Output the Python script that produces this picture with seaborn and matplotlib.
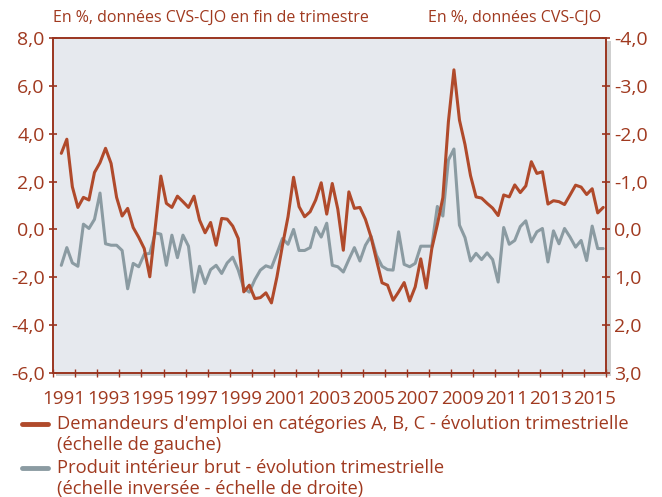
import numpy as np
import pandas as pd
import matplotlib
matplotlib.use("Agg")
import matplotlib.pyplot as plt
import seaborn as sns
from matplotlib.ticker import FuncFormatter, FixedLocator
from matplotlib.lines import Line2D
from matplotlib.patches import Rectangle

# ---------------- data ----------------
first_quarter = "1991Q2"
# Demandeurs d'emploi cat. A, B, C - évolution trimestrielle (%), left scale
demandeurs = [
    3.18, 3.77, 1.78, 0.92, 1.34, 1.23, 2.38, 2.79, 3.39, 2.76,
    1.34, 0.56, 0.88, 0.08, -0.33, -0.80, -1.98, 0.10, 2.23, 1.09,
    0.92, 1.39, 1.16, 0.92, 1.39, 0.39, -0.14, 0.29, -0.66, 0.46,
    0.43, 0.14, -0.38, -2.61, -2.33, -2.89, -2.85, -2.65, -3.07, -1.98,
    -0.66, 0.53, 2.18, 0.95, 0.53, 0.74, 1.23, 1.95, 0.64, 1.92,
    0.85, -0.87, 1.57, 0.88, 0.92, 0.42, -0.31, -1.28, -2.23, -2.33,
    -2.96, -2.61, -2.22, -2.99, -2.40, -1.23, -2.45, -0.80, 0.20, 1.33,
    4.50, 6.67, 4.57, 3.55, 2.25, 1.36, 1.31, 1.09, 0.89, 0.58,
    1.44, 1.36, 1.86, 1.54, 1.82, 2.83, 2.34, 2.41, 1.06, 1.20,
    1.16, 1.04, 1.44, 1.85, 1.77, 1.46, 1.70, 0.69, 0.92,
]
# Produit intérieur brut - évolution trimestrielle (%), right (inverted) scale
pib = [
    0.75, 0.38, 0.70, 0.77, -0.11, -0.02, -0.21, -0.76, 0.30, 0.33,
    0.33, 0.44, 1.24, 0.71, 0.78, 0.52, 0.50, 0.07, 0.10, 0.75,
    0.12, 0.59, 0.12, 0.35, 1.31, 0.77, 1.13, 0.84, 0.75, 0.92,
    0.70, 0.58, 0.85, 1.23, 1.31, 1.05, 0.85, 0.76, 0.80, 0.50,
    0.19, 0.31, 0.00, 0.44, 0.44, 0.38, -0.04, 0.16, -0.13, 0.75,
    0.78, 0.89, 0.63, 0.38, 0.66, 0.33, 0.14, 0.54, 0.77, 0.84,
    0.85, 0.05, 0.73, 0.78, 0.71, 0.35, 0.35, 0.35, -0.48, -0.28,
    -1.45, -1.68, -0.09, 0.17, 0.66, 0.50, 0.63, 0.49, 0.63, 1.10,
    -0.04, 0.31, 0.23, -0.06, -0.18, 0.26, 0.05, -0.02, 0.68, 0.03,
    0.30, -0.02, 0.16, 0.37, 0.23, 0.65, -0.07, 0.40, 0.40,
]
year_labels = [str(y) for y in range(1991, 2016, 2)]
left_ticks = [8, 6, 4, 2, 0, -2, -4, -6]
right_ticks = [-4, -3, -2, -1, 0, 1, 2, 3]

header_left = "En %, données CVS-CJO en fin de trimestre"
header_right = "En %, données CVS-CJO"
label_dem = ["Demandeurs d'emploi en catégories A, B, C - évolution trimestrielle",
             "(échelle de gauche)"]
label_pib = ["Produit intérieur brut - évolution trimestrielle",
             "(échelle inversée - échelle de droite)"]

# ---------------- styling ----------------
sns.set_theme(style="white")
plt.rcParams['font.family'] = ['Open Sans', 'DejaVu Sans']

RED = "#B04A2B"
GREY = "#8B9BA2"
TXT = "#A0391F"
AXC = "#9A3520"
BG = "#E6E9EE"

quarters = pd.period_range(first_quarter, periods=len(demandeurs), freq="Q")
xpos = quarters.year + (quarters.quarter - 0.5) / 4.0
df = pd.DataFrame({"x": xpos, "dem": demandeurs, "pib": pib})

W, H = 662, 497
fig = plt.figure(figsize=(W / 100, H / 100), dpi=100)
L, R, T, B = 53, 606, 38, 373

# soft shadow behind the plot area
fig.patches.append(Rectangle(((L + 3) / W, 1 - (B + 3) / H), (R - L + 2) / W, (B - T) / H,
                             transform=fig.transFigure, facecolor="#CFCFCF",
                             edgecolor="none", zorder=0.2))

ax = fig.add_axes([L / W, 1 - B / H, (R - L) / W, (B - T) / H])
ax2 = ax.twinx()
ax2.set_zorder(1)
ax.set_zorder(2)
ax.patch.set_visible(False)
ax2.patch.set_visible(True)
ax2.patch.set_facecolor(BG)

sns.lineplot(data=df, x="x", y="pib", ax=ax2, color=GREY, lw=2.2, legend=False)
sns.lineplot(data=df, x="x", y="dem", ax=ax, color=RED, lw=2.2, legend=False)

ax.set_xlim(1991, 2016)
ax.set_ylim(-6, 8)
ax2.set_ylim(3, -4)

fmt = FuncFormatter(lambda v, p: f"{v:.1f}".replace(".", ","))
ax.yaxis.set_major_locator(FixedLocator(left_ticks))
ax.yaxis.set_major_formatter(fmt)
ax2.yaxis.set_major_locator(FixedLocator(right_ticks))
ax2.yaxis.set_major_formatter(fmt)

ax.xaxis.set_major_locator(FixedLocator(list(range(1991, 2017))))
ax.xaxis.set_major_formatter(FuncFormatter(lambda v, p: ""))
ax.xaxis.set_minor_locator(FixedLocator([int(y) + 0.5 for y in year_labels]))
ax.xaxis.set_minor_formatter(FuncFormatter(lambda v, p: str(int(round(v - 0.5)))))

ax.set_xlabel("")
ax.set_ylabel("")
ax2.set_ylabel("")

for a in (ax, ax2):
    for s in a.spines.values():
        s.set_color(AXC)
        s.set_linewidth(1.2)

ax.tick_params(axis="y", which="major", direction="inout", length=6, width=1.2,
               color=AXC, labelcolor=TXT, labelsize=14, pad=3, left=True)
ax2.tick_params(axis="y", which="major", direction="inout", length=6, width=1.2,
                color=AXC, labelcolor=TXT, labelsize=14, pad=3, right=True)
ax.tick_params(axis="x", which="major", direction="inout", length=6, width=1.0,
               color=AXC, bottom=True)
ax.tick_params(axis="x", which="minor", length=0, labelcolor=TXT, labelsize=13.5,
               pad=12, bottom=True)

# headers
fig.text(L / W, 1 - 18 / H, header_left, ha="left", va="center", color=TXT, fontsize=11.5)
fig.text(601 / W, 1 - 18 / H, header_right, ha="right", va="center", color=TXT, fontsize=11.5)

# legend
def legend_entry(y_px, color, lines):
    fig.add_artist(Line2D([22 / W, 48 / W], [1 - y_px / H, 1 - y_px / H],
                          transform=fig.transFigure, color=color, lw=3.5))
    for k, t in enumerate(lines):
        fig.text(57 / W, 1 - (y_px + 21 * k) / H, t, ha="left", va="center",
                 color=TXT, fontsize=13.2)

legend_entry(424, RED, label_dem)
legend_entry(468, GREY, label_pib)

fig.savefig("out.png", dpi=100, facecolor="white")
